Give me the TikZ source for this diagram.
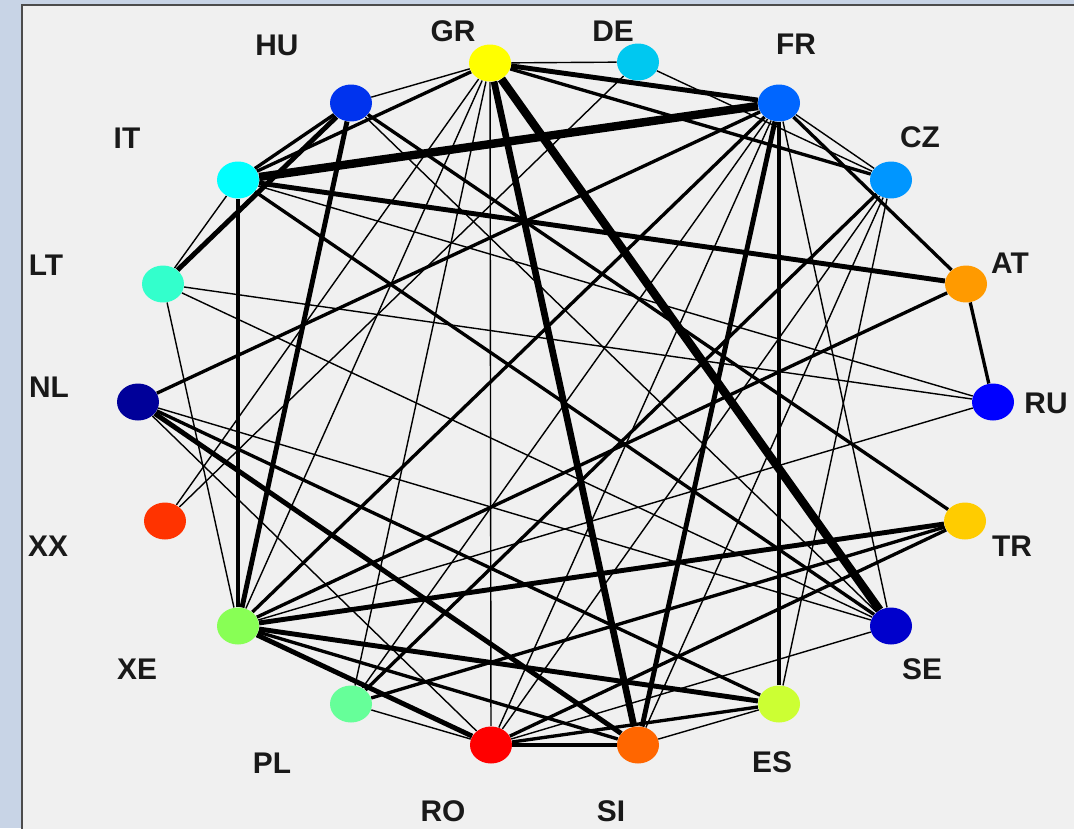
\documentclass[tikz,border=0pt]{standalone}
\usepackage{fontspec}
\setmainfont{Liberation Sans}
\usetikzlibrary{shapes.geometric,backgrounds}
\definecolor{panelgray}{HTML}{F0F0F0}
\definecolor{framestrip}{HTML}{C8D4E6}
\definecolor{cGR}{HTML}{FFFF00}
\definecolor{cDE}{HTML}{00C8F0}
\definecolor{cFR}{HTML}{0066FF}
\definecolor{cCZ}{HTML}{0096FF}
\definecolor{cAT}{HTML}{FF9A00}
\definecolor{cRU}{HTML}{0000FF}
\definecolor{cTR}{HTML}{FFCC00}
\definecolor{cSE}{HTML}{0000CC}
\definecolor{cES}{HTML}{CCFF33}
\definecolor{cSI}{HTML}{FF6600}
\definecolor{cRO}{HTML}{FF0000}
\definecolor{cPL}{HTML}{66FF99}
\definecolor{cXE}{HTML}{88FF55}
\definecolor{cXX}{HTML}{FF3300}
\definecolor{cNL}{HTML}{000099}
\definecolor{cLT}{HTML}{33FFCC}
\definecolor{cIT}{HTML}{00FFFF}
\definecolor{cHU}{HTML}{0033EE}
\tikzset{
  country/.style={ellipse, draw=none, minimum width=0.84cm, minimum height=0.74cm, inner sep=0pt},
  tag/.style={font=\fontsize{17}{19}\selectfont\bfseries, text=black!90, inner sep=0pt},
  wthin/.style={draw=black, line width=0.8pt},
  wmid/.style={draw=black, line width=1.9pt},
  wthick/.style={draw=black, line width=2.8pt},
  wbold/.style={draw=black, line width=3.8pt},
  wheavy/.style={draw=black, line width=4.8pt}
}
\begin{document}
\begin{tikzpicture}[x=0.02cm, y=-0.02cm]
  \useasboundingbox (0,0) rectangle (1074,828);

  % countries on the ring
  \node[country, fill=cGR] (GR) at (490,63) {};
  \node[country, fill=cDE] (DE) at (638,62) {};
  \node[country, fill=cFR] (FR) at (779,103) {};
  \node[country, fill=cCZ] (CZ) at (891,180) {};
  \node[country, fill=cAT] (AT) at (966,284) {};
  \node[country, fill=cRU] (RU) at (993,402) {};
  \node[country, fill=cTR] (TR) at (965,521) {};
  \node[country, fill=cSE] (SE) at (891,626) {};
  \node[country, fill=cES] (ES) at (779,704) {};
  \node[country, fill=cSI] (SI) at (638,745) {};
  \node[country, fill=cRO] (RO) at (491,745) {};
  \node[country, fill=cPL] (PL) at (351,704) {};
  \node[country, fill=cXE] (XE) at (238,626) {};
  \node[country, fill=cXX] (XX) at (165,521) {};
  \node[country, fill=cNL] (NL) at (138,402) {};
  \node[country, fill=cLT] (LT) at (163,284) {};
  \node[country, fill=cIT] (IT) at (238,180) {};
  \node[country, fill=cHU] (HU) at (351,103) {};

  % labels
  \node[tag] (tGR) at (453,31) {GR};
  \node[tag] (tDE) at (613,31) {DE};
  \node[tag] (tFR) at (796,44) {FR};
  \node[tag] (tCZ) at (920,137) {CZ};
  \node[tag] (tAT) at (1010,263) {AT};
  \node[tag] (tRU) at (1046,403) {RU};
  \node[tag] (tTR) at (1012,546) {TR};
  \node[tag] (tSE) at (922,669) {SE};
  \node[tag] (tES) at (772,762) {ES};
  \node[tag] (tSI) at (611,811) {SI};
  \node[tag] (tRO) at (443,811) {RO};
  \node[tag] (tPL) at (272,763) {PL};
  \node[tag] (tXE) at (137,669) {XE};
  \node[tag] (tXX) at (48,546) {XX};
  \node[tag] (tNL) at (49,387) {NL};
  \node[tag] (tLT) at (46,265) {LT};
  \node[tag] (tIT) at (127,138) {IT};
  \node[tag] (tHU) at (277,45) {HU};

  \begin{pgfonlayer}{background}
    % window frame and panel
    \fill[framestrip] (0,0) rectangle (1074,828);
    \filldraw[fill=panelgray, draw=black!70, line width=0.6pt] (22,5) rectangle (1080,835);

    % heavy links
    \draw[wheavy] (GR) -- (SE);
    \draw[wheavy] (IT) -- (FR);
    \draw[wbold] (GR) -- (SI);
    \draw[wthick] (FR) -- (SI);
    \draw[wthick] (GR) -- (FR);
    \draw[wthick] (HU) -- (XE);
    \draw[wthick] (HU) -- (LT);
    \draw[wthick] (XE) -- (RO);
    \draw[wthick] (NL) -- (SI);
    \draw[wthick] (RO) -- (SI);
    \draw[wthick] (XE) -- (TR);
    \draw[wthick] (XE) -- (ES);
    \draw[wthick] (IT) -- (AT);

    % medium links
    \draw[wmid] (GR) -- (CZ);
    \draw[wmid] (GR) -- (IT);
    \draw[wmid] (IT) -- (XE);
    \draw[wmid] (IT) -- (HU);
    \draw[wmid] (FR) -- (ES);
    \draw[wmid] (FR) -- (AT);
    \draw[wmid] (FR) -- (NL);
    \draw[wmid] (FR) -- (XE);
    \draw[wmid] (AT) -- (RU);
    \draw[wmid] (AT) -- (XE);
    \draw[wmid] (HU) -- (TR);
    \draw[wmid] (NL) -- (ES);
    \draw[wmid] (PL) -- (TR);
    \draw[wmid] (IT) -- (SE);
    \draw[wmid] (XE) -- (SI);
    \draw[wmid] (PL) -- (CZ);
    \draw[wmid] (RO) -- (ES);
    \draw[wmid] (RO) -- (TR);

    % thin links
    \foreach \a/\b in {GR/DE, GR/HU, GR/RO, GR/XX, GR/XE, GR/PL, DE/CZ, DE/XX,
                       FR/SE, FR/CZ, FR/RO, FR/PL, IT/LT, IT/RU, LT/RU, LT/SE,
                       LT/XE, RU/XE, CZ/RO, CZ/SI, CZ/ES, ES/SI, PL/RO, NL/RO,
                       HU/SE, NL/SE, RO/SE}
      \draw[wthin] (\a) -- (\b);
  \end{pgfonlayer}
\end{tikzpicture}
\end{document}
